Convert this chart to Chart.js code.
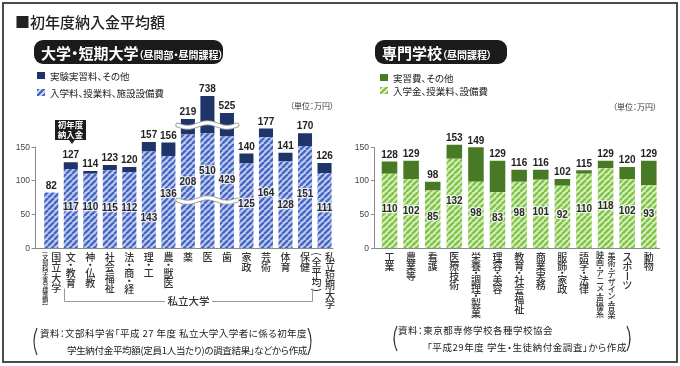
<!DOCTYPE html>
<html lang="ja"><head><meta charset="utf-8">
<script src="https://cdn.jsdelivr.net/npm/chart.js@4.4.1/dist/chart.umd.min.js"></script>
<style>
html,body{margin:0;padding:0;background:#fff;}
#wrap{position:relative;width:680px;height:366px;overflow:hidden;background:#fff;font-family:"Noto Sans CJK JP","Noto Sans",sans-serif;color:#333;font-feature-settings:"palt";}
canvas{position:absolute;top:0;}
#c1{left:0;} #c2{left:340px;}
.abs{position:absolute;white-space:nowrap;}
#frame{position:absolute;left:2px;top:2px;width:672px;height:357px;border:2px solid #4a4a4a;}
.pill{position:absolute;top:40px;height:24px;background:#1b1b1b;border-radius:9px;color:#fff;font-weight:700;line-height:24px;white-space:nowrap;padding-left:7px;box-sizing:border-box;}
.pill .big{font-size:15px;} .pill .sm{font-size:10px;}
.sq{position:absolute;width:8px;height:7px;}
.lg{position:absolute;font-size:9.5px;line-height:12px;white-space:nowrap;color:#222;}
.unit{position:absolute;font-size:8px;line-height:10px;color:#333;white-space:nowrap;}
.src{position:absolute;font-size:9.5px;line-height:12px;white-space:nowrap;color:#222;}
#callout{position:absolute;left:55px;top:119.5px;width:31px;height:20px;background:#1c1c1c;color:#fff;font-size:8.5px;font-weight:700;line-height:9.5px;text-align:center;padding-top:0.5px;box-sizing:border-box;}
#tri{position:absolute;left:68.5px;top:140px;width:0;height:0;border-left:3px solid transparent;border-right:3px solid transparent;border-top:4px solid #222;}
</style></head>
<body>
<div id="wrap">
  <canvas id="c1" width="340" height="366"></canvas>
  <canvas id="c2" width="340" height="366"></canvas>
  <div id="frame"></div>
  <div class="abs" style="left:15px;top:11.5px;font-size:15px;line-height:20px;font-weight:500;color:#222;">■初年度納入金平均額</div>

  <div class="pill" style="left:34px;width:189px;"><span class="big">大学・短期大学</span><span class="sm">（昼間部・昼間課程）</span></div>
  <div class="pill" style="left:375px;width:132px;"><span class="big">専門学校</span><span class="sm">（昼間課程）</span></div>

  <div class="sq" style="left:37px;top:72px;background:#1f3468;"></div>
  <div class="lg" style="left:50px;top:70px;">実験実習料、その他</div>
  <div class="sq" style="left:37px;top:89px;background:repeating-linear-gradient(135deg,#4766c4 0 2px,#c2cff0 2px 4px);"></div>
  <div class="lg" style="left:50px;top:87px;">入学料、授業料、施設設備費</div>

  <div class="sq" style="left:380px;top:74px;background:#487a25;"></div>
  <div class="lg" style="left:393px;top:71.5px;">実習費、その他</div>
  <div class="sq" style="left:380px;top:87px;background:repeating-linear-gradient(135deg,#7fc445 0 2px,#d8efc2 2px 4px);"></div>
  <div class="lg" style="left:393px;top:85px;">入学金、授業料、設備費</div>

  <div class="unit" style="left:290px;top:101px;">（単位：万円）</div>
  <div class="unit" style="left:613px;top:102px;">（単位：万円）</div>

  <div id="callout">初年度<br>納入金</div>
  <div id="tri"></div>

  <svg class="abs" style="left:0;top:0;" width="680" height="366">
    <g fill="none" stroke="#333" stroke-width="1.2">
      <path d="M37 328 Q31 341.5 37 355"/>
      <path d="M308 328 Q314 341.5 308 355"/>
      <path d="M397 326 Q391 338.5 397 351"/>
      <path d="M627 326 Q633 338.5 627 351"/>
    </g>
  </svg>
  <div class="src fit" data-w="267" style="left:40px;top:327px;">資料：文部科学省「平成 27 年度 私立大学入学者に係る初年度</div>
  <div class="src fit" data-w="240" style="left:67px;top:344px;">学生納付金平均額(定員1人当たり)の調査結果」などから作成</div>
  <div class="src fit" data-w="155" style="left:398px;top:324px;">資料：東京都専修学校各種学校協会</div>
  <div class="src fit" data-w="200" style="left:427px;top:341px;">「平成29年度 学生・生徒納付金調査」から作成</div>
</div>
<script>
// ---------------- DATA ----------------
const uniCategories = ['国立大学','文・教育','神・仏教','社会福祉','法・商・経','理・工','農・獣医','薬','医','歯','家政','芸術','体育','保健','私立短期大学'];
const uniCategoryNotes = ['(文部科学省令標準額)','','','','','','','','','','','','','','(全平均)'];
const uniTotals  = [82,127,114,123,120,157,156,219,738,525,140,177,141,170,126];
const uniTuition = [82,117,110,115,112,143,136,208,510,429,125,164,128,151,111];
// bars drawn with a scale break: drawn heights [hatched top, bar top]
const uniBrokenDrawn = {7:[168,191], 8:[170,225], 9:[165,200]};

const vocCategories = ['工業','農業等','看護','医療技術','栄養・調理・製菓','理容・美容','教育・社会福祉','商業実務','服飾・家政','語学・法律','美術・デザイン・音楽','スポーツ','動物'];
const vocCategoryNotes = ['','','','','','','','','','','映画・アニメ・声優系','',''];
const vocTotals  = [128,129,98,153,149,129,116,116,102,115,129,120,129];
const vocTuition = [110,102,85,132,98,83,98,101,92,110,118,102,93];

const yTicks = [0,50,100,150];

// ---------------- STYLE ----------------
const uniInnerLabelAt = [null,60,61,59,59,44,79.5,98,113,101,65,81,64,80,59];
const breakWaveAt = [71,182];

function hatch(dark, light, size){
  const c=document.createElement('canvas'); c.width=c.height=size;
  const g=c.getContext('2d'); g.fillStyle=light; g.fillRect(0,0,size,size);
  g.strokeStyle=dark; g.lineWidth=size/(2*Math.SQRT2)+0.2;
  for(const k of [-1,0,1]){ g.beginPath(); g.moveTo(k*size,size); g.lineTo(k*size+size,0); g.stroke(); }
  return g.createPattern(c,'repeat');
}

const ROT='()（）ー－';
function drawVert(ctx,text,x,y,size,pitch,dot){
  ctx.font='500 '+size+'px "Noto Sans CJK JP"';
  ctx.textAlign='center'; ctx.textBaseline='middle';
  for(const ch of text){
    let p = ch==='・'?dot:(('()（）').includes(ch)?pitch*0.6:pitch);
    const cy=y+p/2;
    if(ROT.includes(ch)){ctx.save();ctx.translate(x,cy);ctx.rotate(Math.PI/2);ctx.fillText(ch,0,0);ctx.restore();}
    else ctx.fillText(ch,x,cy);
    y+=p;
  }
}

const deco={
  id:'deco',
  afterDatasetsDraw(chart,args,o){
    const ctx=chart.ctx, ys=chart.scales.y;
    const m0=chart.getDatasetMeta(0), m1=chart.getDatasetMeta(1);
    ctx.save();
    // break waves
    if(o.breaks){
      const a=m0.data[o.breaks.from], b=m0.data[o.breaks.to];
      const xl=a.x-a.width/2-3, xr=b.x+b.width/2+3;
      o.breaks.at.forEach(v=>{
        const py=ys.getPixelForValue(v);
        const path=()=>{ctx.beginPath();for(let x=xl;x<=xr;x+=1){const yy=py+2.2*Math.sin((x-xl)/(xr-xl)*Math.PI*3);x===xl?ctx.moveTo(x,yy):ctx.lineTo(x,yy);}};
        ctx.lineCap='round';
        path(); ctx.strokeStyle='#9a9a9a'; ctx.lineWidth=5; ctx.stroke();
        path(); ctx.strokeStyle='#fff'; ctx.lineWidth=3.2; ctx.stroke();
      });
    }
    // axes
    const y0=Math.round(ys.getPixelForValue(0))+0.5;
    ctx.strokeStyle='#8a8a8a'; ctx.lineWidth=1;
    ctx.beginPath(); ctx.moveTo(o.axisX+0.5,Math.round(ys.getPixelForValue(150))); ctx.lineTo(o.axisX+0.5,y0); ctx.lineTo(o.baseEnd,y0); ctx.stroke();
    ctx.fillStyle='#444'; ctx.font='8.5px "Liberation Sans", Arial, sans-serif'; ctx.textAlign='right'; ctx.textBaseline='middle';
    yTicks.forEach(t=>{const py=Math.round(ys.getPixelForValue(t))+0.5;ctx.beginPath();ctx.moveTo(o.axisX-3,py);ctx.lineTo(o.axisX+0.5,py);ctx.stroke();ctx.fillText(String(t),o.axisX-5,py+0.5);});
    // value labels
    ctx.textAlign='center'; ctx.textBaseline='middle';
    ctx.font='bold 10px "Liberation Sans", Arial, sans-serif';
    m1.data.forEach((el,i)=>{
      ctx.fillStyle='#222'; ctx.fillText(String(o.totals[i]),el.x,el.y-6.5);
      if(o.inner[i]===o.totals[i]) return;
      let py;
      if(o.innerAt){ if(o.innerAt[i]==null) return; py=ys.getPixelForValue(o.innerAt[i]); }
      else { const e0=m0.data[i]; py=(e0.y+e0.base)/2-2; }
      ctx.lineWidth=2.5; ctx.strokeStyle='rgba(255,255,255,0.75)'; ctx.lineJoin='round';
      ctx.strokeText(String(o.inner[i]),el.x,py);
      ctx.fillStyle='#2a2a2a'; ctx.fillText(String(o.inner[i]),el.x,py);
    });
    // vertical category labels
    ctx.fillStyle='#333';
    const L=o.labels;
    m0.data.forEach((el,i)=>{
      const sp=L.special[i];
      if(sp){
        drawVert(ctx,L.cats[i],el.x+sp.dx,L.top,sp.size,sp.pitch,sp.dot);
        drawVert(ctx,L.notes[i],el.x+sp.ndx,L.top-1,sp.nsize,sp.npitch,sp.ndot);
      } else drawVert(ctx,L.cats[i],el.x,L.top,L.size,L.pitch,L.dot);
    });
    // bracket
    if(o.bracket){
      const a=m0.data[o.bracket.from], b=m0.data[o.bracket.to];
      const xl=Math.round(a.x-a.width/2)+0.5, xr=Math.round(b.x+b.width/2)+0.5, by=301.5, xm=(xl+xr)/2;
      ctx.strokeStyle='#999'; ctx.lineWidth=1;
      ctx.beginPath(); ctx.moveTo(xl,289); ctx.lineTo(xl,by); ctx.lineTo(xm-24,by);
      ctx.moveTo(xm+24,by); ctx.lineTo(xr,by); ctx.lineTo(xr,289); ctx.stroke();
      ctx.fillStyle='#333'; ctx.font='500 10.5px "Noto Sans CJK JP"'; ctx.fillText(o.bracket.text,xm,by);
    }
    ctx.restore();
  }
};

function makeChart(id,totals,tuition,broken,topColor,pat,pad,opts){
  const lower=tuition.map((v,i)=>broken&&broken[i]?broken[i][0]:v);
  const upper=totals.map((t,i)=>broken&&broken[i]?broken[i][1]-broken[i][0]:t-tuition[i]);
  return new Chart(document.getElementById(id),{
    type:'bar',
    data:{labels:totals.map((_,i)=>i),datasets:[
      {data:lower,backgroundColor:pat,borderWidth:0,barPercentage:0.72,categoryPercentage:1},
      {data:upper,backgroundColor:topColor,borderWidth:0,barPercentage:0.72,categoryPercentage:1}
    ]},
    options:{responsive:false,animation:false,events:[],
      layout:{padding:pad},
      scales:{x:{display:false,stacked:true},y:{display:false,stacked:true,min:0,max:225}},
      plugins:{legend:{display:false},tooltip:{enabled:false},deco:opts}},
    plugins:[deco]
  });
}

makeChart('c1',uniTotals,uniTuition,uniBrokenDrawn,'#1f3468',hatch('#4766c4','#c2cff0',6),
  {left:41.5,right:5.7,top:96,bottom:118},
  {axisX:35,baseEnd:333,totals:uniTotals,inner:uniTuition,innerAt:uniInnerLabelAt,
   breaks:{from:7,to:9,at:breakWaveAt},
   bracket:{from:1,to:13,text:'私立大学'},
   labels:{cats:uniCategories,notes:uniCategoryNotes,top:252,size:10,pitch:10.3,dot:5.5,
     special:{0:{dx:5,size:10,pitch:10.3,dot:5.5,ndx:-6,nsize:6,npitch:5.4,ndot:3},
              14:{dx:5.5,size:10,pitch:9.5,dot:5,ndx:-8,nsize:10,npitch:10,ndot:5}}}});

makeChart('c2',vocTotals,vocTuition,null,'#487a25',hatch('#7fc445','#d8efc2',6),
  {left:38.7,right:20.4,top:96,bottom:118},
  {axisX:34,baseEnd:320,totals:vocTotals,inner:vocTuition,innerAt:null,
   labels:{cats:vocCategories,notes:vocCategoryNotes,top:252,size:10,pitch:9.6,dot:4,
     special:{10:{dx:6,size:8,pitch:7.3,dot:4,ndx:-5.5,nsize:8,npitch:7.3,ndot:4}}}});

// fit source text lines to their measured widths
document.querySelectorAll('.fit').forEach(el=>{
  const w=+el.dataset.w, n=[...el.textContent].length;
  const cur=el.getBoundingClientRect().width;
  el.style.letterSpacing=((w-cur)/n)+'px';
});
</script>
</body></html>
